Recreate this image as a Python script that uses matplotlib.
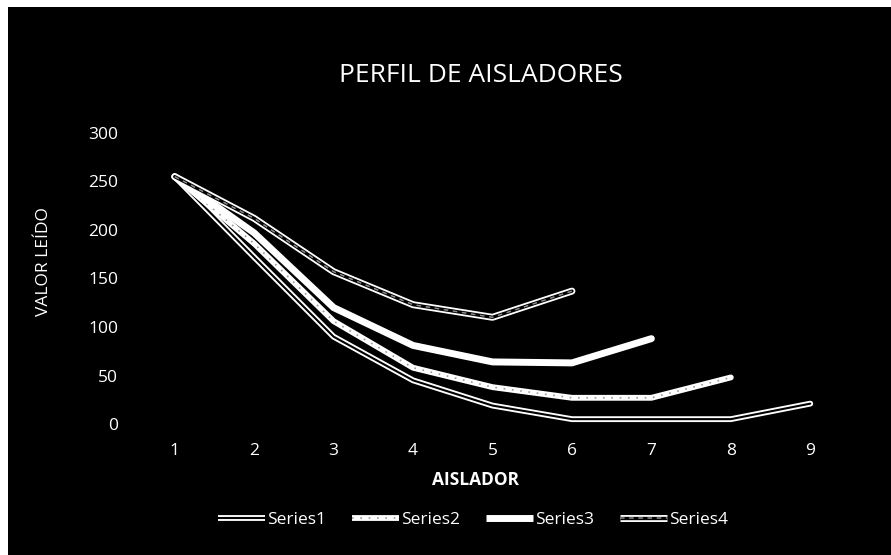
import numpy as np
import matplotlib.pyplot as plt
from matplotlib.lines import Line2D

# valores (escaneada)
aislador = [1, 2, 3, 4, 5, 6, 7, 8, 9]
series1 = [255, 172, 90, 45, 19, 5, 5, 5, 21]
series2 = [255, 186, 106, 58, 38, 27, 27, 48]
series3 = [255, 197, 120, 81, 64, 63, 88]
series4 = [255, 212, 157, 123, 110, 137]
nombres = ["Series1", "Series2", "Series3", "Series4"]
yticks = [0, 50, 100, 150, 200, 250, 300]

fig = plt.figure(figsize=(8.91, 5.55), dpi=100, facecolor="white")
# fondo negro del escaneo
fondo = fig.add_axes([8/891, 0, 1 - 8/891, 1 - 7/555])
fondo.set_facecolor("black")
fondo.set_xticks([])
fondo.set_yticks([])
for s in fondo.spines.values():
    s.set_visible(False)

ax = fig.add_axes([135/891, 1 - 424/555, 715/891, 291/555])
ax.set_facecolor("black")
fuente = "Open Sans"

# cada serie = varias capas superpuestas (lw, color, estilo)
capas = [
    [(4.2, "white", "-"), (1.5, "black", "-")],
    [(4.2, "white", "-"), (1.2, "#9a9a9a", (0, (1, 4)))],
    [(5.0, "white", "-")],
    [(5.0, "white", "-"), (2.4, "black", "-"), (1.1, "#8a8a8a", (0, (3, 3)))],
]
datos = [series1, series2, series3, series4]

handles = []
for serie, cs in zip(datos, capas):
    for lw, c, ls in cs:
        ax.plot(aislador[:len(serie)], serie, color=c, lw=lw, linestyle=ls,
                solid_capstyle="round", solid_joinstyle="round")
    handles.append(tuple(Line2D([], [], color=c, lw=lw, linestyle=ls,
                                solid_capstyle="butt") for lw, c, ls in cs))

ax.set_xlim(0.5, 9.5)
ax.set_ylim(0, 300)
ax.set_xticks(aislador)
ax.set_yticks(yticks)
ax.tick_params(length=0, colors="white", labelsize=12.5)
ax.tick_params(axis="x", pad=14)
ax.tick_params(axis="y", pad=12)
for lab in ax.get_xticklabels() + ax.get_yticklabels():
    lab.set_fontfamily(fuente)
for s in ax.spines.values():
    s.set_visible(False)

fig.text(481/891, 1 - 75/555, "PERFIL DE AISLADORES", color="white",
         fontsize=19, fontfamily=fuente, ha="center", va="center")
fig.text(476/891, 1 - 480/555, "AISLADOR", color="white", fontsize=12.5,
         fontfamily=fuente, fontweight="bold", ha="center", va="center")
fig.text(44/891, 1 - 262/555, "VALOR LEÍDO", color="white", fontsize=12.5,
         fontfamily=fuente, rotation=90, ha="center", va="center")

leg = fig.legend(handles, nombres, loc="center",
                 bbox_to_anchor=(473/891, 1 - 520/555), ncol=4, frameon=False,
                 handlelength=2.7, handletextpad=0.12, columnspacing=1.5,
                 prop={"family": fuente, "size": 12.5})
for t in leg.get_texts():
    t.set_color("white")

fig.savefig("out.png", dpi=100, facecolor="white")
